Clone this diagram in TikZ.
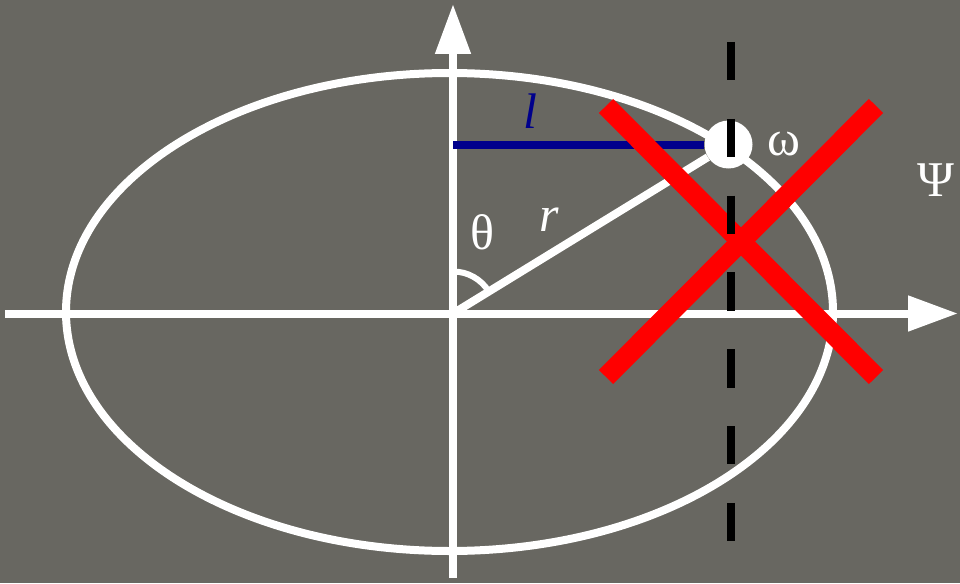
\documentclass[tikz,border=0pt]{standalone}
\usepackage{fontspec}
\setmainfont{Liberation Serif}
\usepackage{tikz}
\usetikzlibrary{arrows.meta,positioning,calc}
\definecolor{board}{RGB}{104,103,97}
\definecolor{chalkred}{RGB}{255,0,0}
\definecolor{lblue}{RGB}{0,0,140}
\tikzset{
  chalk/.style={draw=white, line width=8pt},
  axis/.style={chalk, -{Triangle[length=50pt, width=34pt]}},
  cross/.style={draw=chalkred, line width=20pt, line cap=butt},
  guide/.style={draw=black, line width=8pt, dash pattern=on 38.4pt off 38.4pt},
  lbl/.style={text=white, inner sep=0pt, font=\fontsize{50}{50}\selectfont}
}

\begin{document}
\begin{tikzpicture}[
  x=1pt, y=-1pt,
  bead/.style={circle, fill=white, inner sep=0pt, minimum size=48pt}
]
\fill[board] (0,0) rectangle (960,583);
\useasboundingbox (0,0) rectangle (960,583);

% --- orbit and axes ---
\coordinate (origin) at (453,313.5);
\coordinate (ctr) at (449.5,312);
\coordinate (xstart) at (5,313.5);
\coordinate (xend) at (958,313.5);
\coordinate (ystart) at (453,578);
\coordinate (yend) at (453,4);
\draw[chalk] (ctr) ellipse [x radius=383.5, y radius=239];
\draw[axis] (xstart) -- (xend);
\draw[axis] (ystart) -- (yend);

% --- bead on the orbit ---
\node[bead] (omega) at (728.5,144.5) {};
\coordinate (lstart) at (453,144.5);
\draw[chalk] (origin) -- (omega);
\draw[draw=lblue, line width=8pt] (lstart) -- (omega);

% angle mark
\draw[draw=white, line width=6pt] (origin) ++(0,-42) arc[start angle=-90, end angle=-31.5, radius=42];

% --- red cross ---
\coordinate (ca) at (606,106);
\coordinate (cb) at (876,377);
\coordinate (cc) at (876,106);
\coordinate (cd) at (606,377);
\draw[cross] (ca) -- (cb);
\draw[cross] (cc) -- (cd);

% dashed line through the bead
\coordinate (gtop) at (730.5,42);
\coordinate (gbot) at (730.5,541);
\draw[guide] (gtop) -- (gbot);

% --- labels ---
\node[lbl] (theta) at (482,232) {θ};
\node[lbl] (rlab) at (549,220) {\itshape r};
\node[lbl, text=lblue] (llab) at (530,111) {\itshape l};
\node[lbl] (wlab) at (784,144) {ω};
\node[lbl] (psi) at (936,180) {Ψ};

\end{tikzpicture}
\end{document}
